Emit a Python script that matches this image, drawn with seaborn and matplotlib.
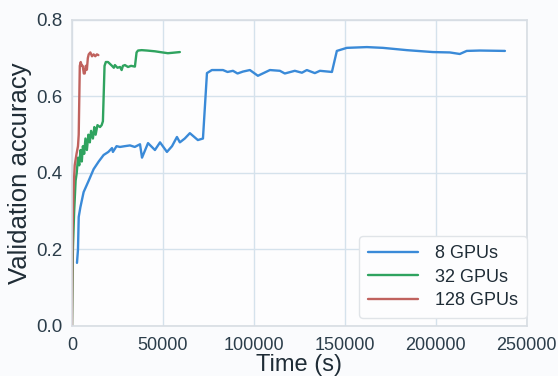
import matplotlib
matplotlib.use("Agg")
import matplotlib.pyplot as plt
import seaborn as sns
import pandas as pd

series_names = ["8 GPUs", "32 GPUs", "128 GPUs"]

blue_x = [2750, 3300, 3700, 4600, 6400, 9200, 11900, 14700, 17400, 20000, 22000, 22500,
          24500, 26400, 29000, 31900, 34500, 37400, 38500, 41800, 45600, 48400, 52200,
          55000, 57700, 59300, 62000, 64800, 69200, 72000, 74200, 76900, 83000, 85500,
          88500, 91000, 94000, 97800, 102200, 108800, 114300, 117000, 122500, 126400,
          129100, 133500, 136300, 142900, 145600, 151100, 162100, 170900, 184100,
          198400, 207700, 213200, 217000, 224200, 238000]
blue_y = [0.165, 0.2, 0.285, 0.31, 0.35, 0.38, 0.41, 0.43, 0.447, 0.455, 0.465, 0.455,
          0.47, 0.468, 0.47, 0.472, 0.468, 0.475, 0.44, 0.478, 0.46, 0.48, 0.455,
          0.47, 0.494, 0.48, 0.49, 0.504, 0.486, 0.49, 0.661, 0.669, 0.669, 0.664,
          0.667, 0.66, 0.665, 0.669, 0.654, 0.669, 0.667, 0.66, 0.667, 0.662,
          0.669, 0.661, 0.667, 0.664, 0.719, 0.727, 0.729, 0.727, 0.721,
          0.716, 0.715, 0.711, 0.719, 0.72, 0.719]

green_x = [0, 500, 1200, 2000, 2600, 3300, 4000, 4700, 5400, 6000, 6700, 7400, 8200,
           9000, 9800, 10500, 11500, 12300, 13000, 14000, 15400, 16300, 17000, 17900,
           18600, 19800, 20900, 22000, 23000, 23600, 25000, 26400, 27300, 28000, 29100,
           30800, 32500, 34600, 35500, 36300, 38300, 41200, 45600, 48400, 52700, 55000,
           59300]
green_y = [0, 0.2, 0.3, 0.38, 0.40, 0.44, 0.42, 0.46, 0.43, 0.47, 0.45, 0.49, 0.46,
           0.5, 0.48, 0.51, 0.49, 0.52, 0.5, 0.525, 0.52, 0.525, 0.535, 0.68,
           0.69, 0.69, 0.685, 0.68, 0.675, 0.682, 0.675, 0.677, 0.669, 0.68, 0.682,
           0.677, 0.68, 0.678, 0.715, 0.72, 0.721, 0.72, 0.718, 0.716, 0.713, 0.714,
           0.716]

red_x = [0, 300, 800, 1500, 2500, 3300, 3700, 4300, 4800, 5400, 5900, 6500, 7000, 7600,
         8200, 8700, 9200, 10100, 11000, 11900, 12800, 13700, 14500]
red_y = [0, 0.25, 0.35, 0.42, 0.45, 0.47, 0.5, 0.68, 0.69, 0.68, 0.68, 0.66, 0.66, 0.68,
         0.67, 0.70, 0.71, 0.715, 0.705, 0.71, 0.705, 0.71, 0.708]

x_ticks = [0, 50000, 100000, 150000, 200000, 250000]
y_ticks = [0.0, 0.2, 0.4, 0.6, 0.8]
colors = ["#3a8ad8", "#2fa35f", "#c0625e"]

frames = []
for name, xs, ys in zip(series_names, [blue_x, green_x, red_x], [blue_y, green_y, red_y]):
    frames.append(pd.DataFrame({"time": xs, "acc": ys, "series": name}))
df = pd.concat(frames, ignore_index=True)

sns.set_theme(style="whitegrid")
plt.rcParams["font.family"] = ["Liberation Sans", "DejaVu Sans"]
plt.rcParams.update({
    "axes.edgecolor": "#d8dde3",
    "grid.color": "#d5e2ec",
    "axes.facecolor": "#fdfdfe",
    "figure.facecolor": "#fafbfd",
})

fig = plt.figure(figsize=(5.58, 3.76), dpi=100)
ax = fig.add_axes([0.129, 0.133, 0.815, 0.814])
sns.lineplot(data=df, x="time", y="acc", hue="series", hue_order=series_names,
             palette=colors, estimator=None, sort=False, units="series",
             linewidth=1.7, ax=ax)

ax.set_xlim(0, 250000)
ax.set_ylim(0, 0.8)
ax.set_xticks(x_ticks)
ax.set_yticks(y_ticks)
ax.set_xticklabels([str(v) for v in x_ticks], fontsize=13, color="#2b3d4a")
ax.set_yticklabels([f"{v:.1f}" for v in y_ticks], fontsize=13.5, color="#2b3d4a")
ax.set_xlabel("Time (s)", fontsize=17, color="#1f2c36", labelpad=0)
ax.set_ylabel("Validation accuracy", fontsize=18.5, color="#1f2c36", labelpad=3)
ax.tick_params(axis="x", pad=2)
ax.tick_params(axis="y", pad=1)
for s in ax.spines.values():
    s.set_linewidth(1.2)

leg = ax.legend(loc="lower right", bbox_to_anchor=(1.0, 8 / 306), borderaxespad=0,
                fontsize=13, frameon=True, handlelength=2.8, handletextpad=0.9,
                borderpad=0.5, labelspacing=0.35, framealpha=1)
leg.get_frame().set_edgecolor("#e0e4e8")
for t in leg.get_texts():
    t.set_color("#1f2c36")

fig.savefig("out.png", dpi=100)
